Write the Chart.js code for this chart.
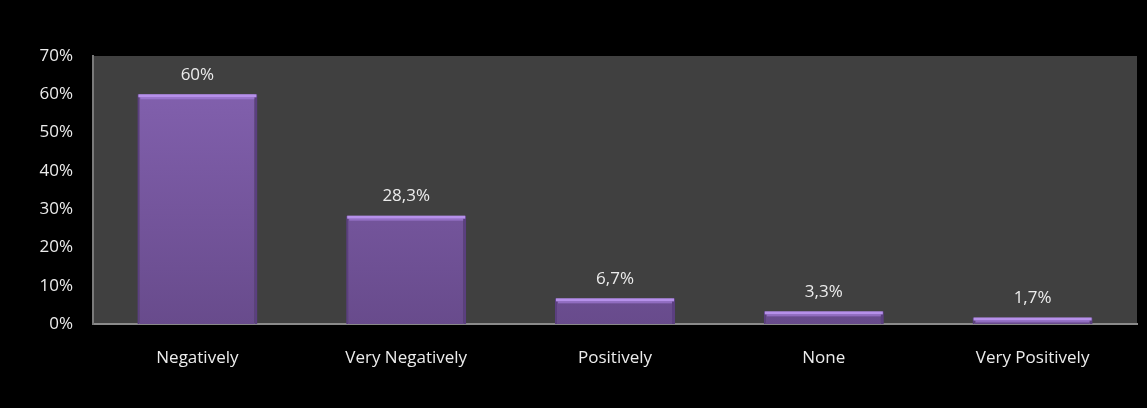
<!DOCTYPE html>
<html>
<head>
<meta charset="utf-8">
<script src="https://cdn.jsdelivr.net/npm/chart.js@4/dist/chart.umd.min.js"></script>
<style>
    html, body { margin: 0; padding: 0; background: #000; }
    #wrap { width: 1147px; height: 408px; }
</style>
</head>
<body>
<div id="wrap"><canvas id="answersChart"></canvas></div>
<script>
const categories = ['Negatively', 'Very Negatively', 'Positively', 'None', 'Very Positively'];
const shares = [60, 28.3, 6.7, 3.3, 1.7];
const valueLabels = ['60%', '28,3%', '6,7%', '3,3%', '1,7%'];
const yTicks = [0, 10, 20, 30, 40, 50, 60, 70];

const FONT = '"Open Sans", Lato, sans-serif';
const textColor = '#ececec';

// grey plot area behind the bars
const plotBackground = {
    id: 'plotBackground',
    beforeDraw(chart) {
        const a = chart.chartArea;
        const ctx = chart.ctx;
        ctx.save();
        ctx.fillStyle = '#404040';
        ctx.fillRect(a.left, a.top, a.right - a.left, a.bottom - a.top);
        ctx.restore();
    }
};

// light bevel on top of each bar + the value text above it
const barExtras = {
    id: 'barExtras',
    afterDatasetsDraw(chart) {
        const ctx = chart.ctx;
        const meta = chart.getDatasetMeta(0);
        ctx.save();
        meta.data.forEach((bar, i) => {
            const left = bar.x - bar.width / 2;
            const h = Math.min(3, bar.base - bar.y);
            ctx.fillStyle = '#b690ea';
            ctx.fillRect(left + 1, bar.y, bar.width - 2, h);
            ctx.fillStyle = 'rgba(170,130,225,0.6)';
            ctx.fillRect(left + 3, bar.y + h, bar.width - 6, Math.min(2, bar.base - bar.y - h));

            ctx.fillStyle = textColor;
            ctx.font = '17px ' + FONT;
            ctx.textAlign = 'center';
            ctx.textBaseline = 'middle';
            ctx.fillText(valueLabels[i], bar.x, bar.y - 19);
        });
        ctx.restore();
    }
};

function barFill(context) {
    const area = context.chart.chartArea;
    if (!area) return '#7a5ba6';
    const g = context.chart.ctx.createLinearGradient(0, area.top, 0, area.bottom);
    g.addColorStop(0, '#8563b2');
    g.addColorStop(1, '#684b8c');
    return g;
}

const ctx = document.getElementById('answersChart').getContext('2d');
new Chart(ctx, {
    type: 'bar',
    data: {
        labels: categories,
        datasets: [{
            data: shares,
            backgroundColor: barFill,
            borderColor: '#5b3f80',
            borderWidth: { left: 2, right: 3, top: 0, bottom: 0 },
            borderSkipped: false,
            categoryPercentage: 1,
            barPercentage: 0.575
        }]
    },
    options: {
        responsive: true,
        maintainAspectRatio: false,
        animation: false,
        layout: { padding: { left: 0, right: 10, top: 56, bottom: 0 } },
        plugins: {
            legend: { display: false },
            tooltip: { enabled: false }
        },
        scales: {
            x: {
                grid: { display: false },
                border: { display: true, color: '#8a8a8a', width: 2 },
                ticks: {
                    color: textColor,
                    font: { family: FONT, size: 17 },
                    padding: 16
                },
                afterFit(scale) { scale.height = 84; }
            },
            y: {
                min: 0,
                max: 70,
                afterBuildTicks(scale) {
                    scale.ticks = yTicks.map(v => ({ value: v }));
                },
                grid: { display: false },
                border: { display: true, color: '#7a7a7a', width: 2 },
                ticks: {
                    color: textColor,
                    font: { family: FONT, size: 17 },
                    padding: 12,
                    callback: v => v + '%'
                },
                afterFit(scale) { scale.width = 93; }
            }
        }
    },
    plugins: [plotBackground, barExtras]
});
</script>
</body>
</html>
